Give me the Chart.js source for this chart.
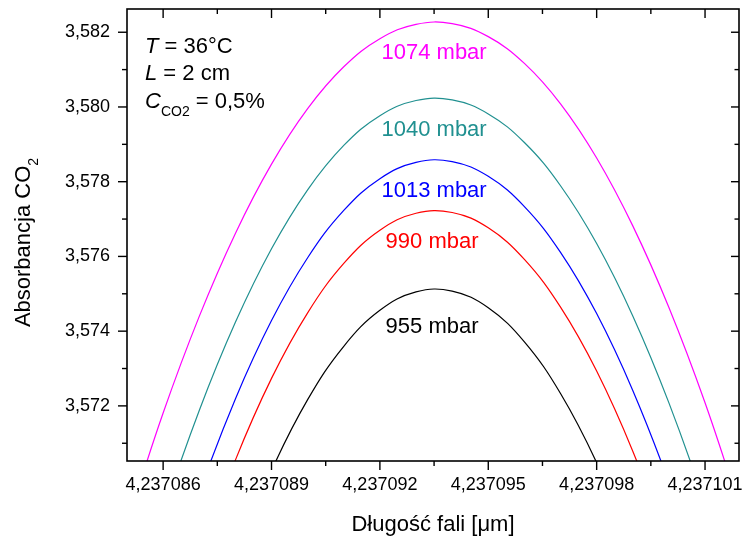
<!DOCTYPE html>
<html>
<head>
<meta charset="utf-8">
<script src="https://cdn.jsdelivr.net/npm/chart.js@4.4.1/dist/chart.umd.min.js"></script>
<style>
  body { margin: 0; background: #fff; }
  #wrap { width: 742px; height: 537px; }
</style>
</head>
<body>
<div id="wrap"><canvas id="co2Chart" width="742" height="537"></canvas></div>
<script>
// wavelength in um, one point per 0,000001 um
var wavelength = [4.237085, 4.237086, 4.237087, 4.237088, 4.237089, 4.237090, 4.237091, 4.237092, 4.237093,
                  4.237094, 4.237095, 4.237096, 4.237097, 4.237098, 4.237099, 4.237100, 4.237101, 4.237102];

// absorbance
var abs1074 = [3.568854, 3.571808, 3.574395, 3.576616, 3.578469, 3.579956, 3.581075, 3.581827, 3.582212,
               3.582231, 3.581882, 3.581167, 3.580084, 3.578634, 3.576818, 3.574634, 3.572084, 3.569166];
var abs1040 = [3.565987, 3.569127, 3.571877, 3.574236, 3.576205, 3.577783, 3.578970, 3.579767, 3.580173,
               3.580189, 3.579814, 3.579048, 3.577892, 3.576345, 3.574408, 3.572080, 3.569362, 3.566252];
var abs1013 = [3.563404, 3.566747, 3.569674, 3.572186, 3.574283, 3.575964, 3.577231, 3.578082, 3.578517,
               3.578538, 3.578144, 3.577334, 3.576110, 3.574470, 3.572414, 3.569944, 3.567058, 3.563757];
var abs990  = [3.561387, 3.564874, 3.567928, 3.570549, 3.572736, 3.574491, 3.575812, 3.576700, 3.577155,
               3.577176, 3.576765, 3.575920, 3.574642, 3.572931, 3.570787, 3.568209, 3.565199, 3.561755];
var abs955  = [3.557985, 3.561759, 3.565064, 3.567900, 3.570268, 3.572167, 3.573596, 3.574557, 3.575050,
               3.575073, 3.574628, 3.573714, 3.572331, 3.570479, 3.568158, 3.565369, 3.562111, 3.558384];

var pressures = ['1074 mbar', '1040 mbar', '1013 mbar', '990 mbar', '955 mbar'];
var colors = ['#ff00ff', '#209090', '#0000ff', '#ff0000', '#000000'];

var xTicks = [4.237086, 4.237089, 4.237092, 4.237095, 4.237098, 4.237101];
var yTicks = [3.572, 3.574, 3.576, 3.578, 3.580, 3.582];

var FONT = '"Liberation Sans", Arial, sans-serif';

function toPoints(values) {
    return values.map(function(v, i) { return { x: wavelength[i], y: v }; });
}

var allSeries = [abs1074, abs1040, abs1013, abs990, abs955];

// frame, ticks and all texts
var framePlugin = {
    id: 'frame',
    afterDatasetsDraw: function(chart) {
        var ctx = chart.ctx, a = chart.chartArea;
        var xs = chart.scales.x, ys = chart.scales.y;
        ctx.save();
        ctx.strokeStyle = '#000';
        ctx.lineWidth = 1.6;
        ctx.strokeRect(a.left, a.top, a.right - a.left, a.bottom - a.top);
        ctx.lineWidth = 1.4;
        function line(x1, y1, x2, y2) {
            ctx.beginPath(); ctx.moveTo(x1, y1); ctx.lineTo(x2, y2); ctx.stroke();
        }
        xTicks.forEach(function(v) {
            var p = xs.getPixelForValue(v);
            line(p, a.bottom, p, a.bottom + 9);
            line(p, a.top, p, a.top + 9);
            var m = xs.getPixelForValue(v + 0.0000015);
            if (m < a.right) {
                line(m, a.bottom, m, a.bottom + 5);
                line(m, a.top, m, a.top + 5);
            }
        });
        yTicks.forEach(function(v) {
            var p = ys.getPixelForValue(v);
            line(a.left - 9, p, a.left, p);
            line(a.right - 8, p, a.right, p);
            var m = ys.getPixelForValue(v - 0.001);
            if (m < a.bottom) {
                line(a.left - 5, m, a.left, m);
                line(a.right - 4.5, m, a.right, m);
            }
        });
        ctx.restore();
    },
    afterDraw: function(chart) {
        var ctx = chart.ctx, a = chart.chartArea;
        var xs = chart.scales.x;
        ctx.save();
        ctx.textBaseline = 'alphabetic';

        // curve labels
        var labelY = [58.5, 135.5, 197, 248, 333];
        var cx = xs.getPixelForValue(4.2370935);
        ctx.textAlign = 'center';
        ctx.font = '22px ' + FONT;
        pressures.forEach(function(t, i) {
            ctx.fillStyle = colors[i];
            ctx.fillText(t, cx - (i > 2 ? 2 : 0), labelY[i]);
        });

        // conditions
        ctx.textAlign = 'left';
        ctx.fillStyle = '#000';
        var x0 = 145;
        ctx.font = 'italic 22px ' + FONT;
        ctx.fillText('T', x0, 53);
        var w = ctx.measureText('T').width;
        ctx.font = '22px ' + FONT;
        ctx.fillText(' = 36\u00b0C', x0 + w, 53);

        ctx.font = 'italic 22px ' + FONT;
        ctx.fillText('L', x0, 80);
        w = ctx.measureText('L').width;
        ctx.font = '22px ' + FONT;
        ctx.fillText(' = 2 cm', x0 + w, 80);

        ctx.font = 'italic 22px ' + FONT;
        ctx.fillText('C', x0, 107.5);
        w = ctx.measureText('C').width;
        ctx.font = '14px ' + FONT;
        ctx.fillText('CO2', x0 + w, 116);
        w += ctx.measureText('CO2').width;
        ctx.font = '22px ' + FONT;
        ctx.fillText(' = 0,5%', x0 + w, 107.5);

        // x title
        ctx.textAlign = 'center';
        ctx.font = '22px ' + FONT;
        ctx.fillText('D\u0142ugo\u015b\u0107 fali [\u03bcm]', (a.left + a.right) / 2, 531);

        // y title with subscript
        ctx.translate(30, 242.5);
        ctx.rotate(-Math.PI / 2);
        ctx.font = '22px ' + FONT;
        var main = 'Absorbancja CO';
        var wm = ctx.measureText(main).width;
        ctx.font = '14px ' + FONT;
        var ws = ctx.measureText('2').width;
        var start = -(wm + ws) / 2;
        ctx.textAlign = 'left';
        ctx.font = '22px ' + FONT;
        ctx.fillText(main, start, 0);
        ctx.font = '14px ' + FONT;
        ctx.fillText('2', start + wm, 8);
        ctx.restore();
    }
};

var ctx = document.getElementById('co2Chart').getContext('2d');
var chart = new Chart(ctx, {
    type: 'line',
    data: {
        datasets: allSeries.map(function(s, i) {
            return {
                label: pressures[i],
                data: toPoints(s),
                borderColor: colors[i],
                borderWidth: 1.2,
                pointRadius: 0,
                tension: 0.4,
                fill: false
            };
        })
    },
    options: {
        responsive: false,
        animation: false,
        layout: { padding: { top: 9, right: 3, left: 0, bottom: 0 } },
        plugins: {
            legend: { display: false },
            tooltip: { enabled: false }
        },
        scales: {
            x: {
                type: 'linear',
                min: 4.237085,
                max: 4.23710194,
                grid: { display: false, drawTicks: false },
                border: { display: false },
                afterBuildTicks: function(scale) {
                    scale.ticks = xTicks.map(function(v) { return { value: v }; });
                },
                afterFit: function(scale) {
                    scale.height = 76;
                    scale.paddingLeft = 0; scale.paddingRight = 0;
                },
                ticks: {
                    padding: 13,
                    maxRotation: 0,
                    autoSkip: false,
                    color: '#000',
                    font: { family: FONT, size: 18 },
                    callback: function(v) { return v.toFixed(6).replace('.', ','); }
                }
            },
            y: {
                type: 'linear',
                min: 3.570525,
                max: 3.582622,
                grid: { display: false, drawTicks: false },
                border: { display: false },
                afterBuildTicks: function(scale) {
                    scale.ticks = yTicks.map(function(v) { return { value: v }; });
                },
                afterFit: function(scale) {
                    scale.width = 127;
                    scale.paddingTop = 0; scale.paddingBottom = 0;
                },
                ticks: {
                    padding: 17,
                    autoSkip: false,
                    color: '#000',
                    font: { family: FONT, size: 18 },
                    callback: function(v) { return v.toFixed(3).replace('.', ','); }
                }
            }
        }
    },
    plugins: [framePlugin]
});
</script>
</body>
</html>
